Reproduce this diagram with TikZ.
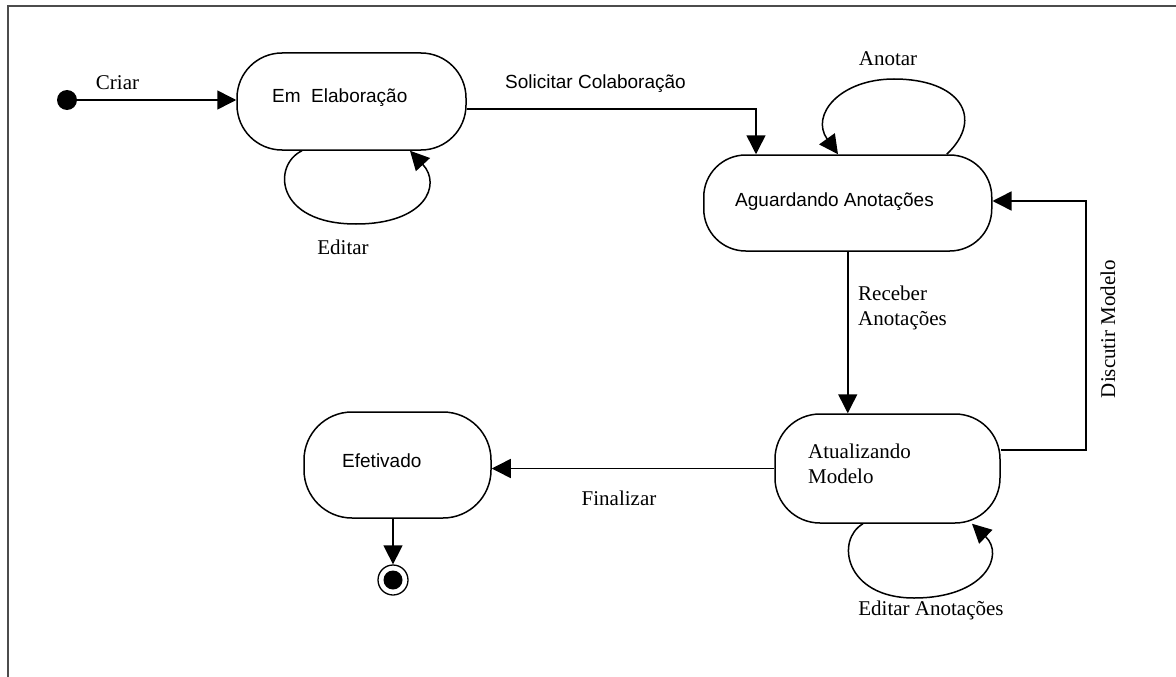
\documentclass[tikz,border=0pt]{standalone}
\usepackage{fontspec}
\setmainfont{Liberation Serif}
\setsansfont{Liberation Sans}
\usetikzlibrary{arrows.meta,calc}
\tikzset{
  st/.style={draw, line width=1.5pt, rounded corners=#1, inner sep=0pt},
  conn/.style={line width=1.5pt},
  arr/.style={conn, -{Triangle[length=19pt,width=19pt]}},
  lbl/.style={font=\fontsize{21pt}{25pt}\selectfont, inner sep=0pt},
  slbl/.style={font=\sffamily\fontsize{19pt}{23pt}\selectfont, inner sep=0pt},
  frame/.style={line width=2pt, draw=black!70},
}
\begin{document}
\begin{tikzpicture}[x=1pt,y=-1pt]
\useasboundingbox (0,0) rectangle (1176,677);
% frame
\draw[frame] (8,677) -- (8,6) -- (1176,6);
% states
\node[st=45pt, minimum width=229pt, minimum height=97pt] (elab) at (351.5,101.5) {};
\node[st=42pt, minimum width=288pt, minimum height=96pt] (aguard) at (847.75,203) {};
\node[st=48pt, minimum width=187pt, minimum height=106pt] (efet) at (397.5,465) {};
\node[st=45pt, minimum width=225pt, minimum height=109pt] (atual) at (887.5,468.5) {};
% state texts
\node[slbl, anchor=west] (telab) at (272,98) {Em\ \ Elaboração};
\node[slbl, anchor=west] (taguard) at (735,202) {Aguardando Anotações};
\node[slbl, anchor=west] (tefet) at (342,461) {Efetivado};
\node[lbl, anchor=west, align=left] (tatual) at (808,464) {Atualizando\\Modelo};
% initial and final states
\node[circle, fill=black, minimum size=20pt, inner sep=0pt] (init) at (67,100) {};
\node[circle, draw, line width=1.3pt, minimum size=30pt, inner sep=0pt] (final) at (393,580) {};
\node[circle, fill=black, minimum size=19pt, inner sep=0pt] (finaldot) at (final) {};
% coordinates
\coordinate (s1) at (756,109);
\coordinate (d1) at (1086,450);
\coordinate (d2) at (1086,201);
% connectors
\draw[arr] (init) -- (init -| elab.west);
\draw[arr] (elab.east |- s1) -- (s1) -- (s1 |- aguard.north);
\draw[arr] (aguard.south) -- (aguard.south |- atual.north);
\draw[arr] (atual.east |- d1) -- (d1) -- (d2) -- (aguard.east |- d2);
\draw[arr] (atual.west) -- (atual.west -| efet.east);
\draw[arr] (efet.south -| final) -- (final.north);
% self loops
\draw[arr] ($(elab.south)+(-49.5,0)$) .. controls (272,165) and (275,224) .. (356,224)
  .. controls (425,224) and (442,185) .. ($(elab.south)+(58.5,0)$);
\draw[arr] ($(aguard.north)+(99,0)$) .. controls (985,118) and (960,79) .. (894,79)
  .. controls (840,79) and (810,115) .. ($(aguard.north)+(-9.75,0)$);
\draw[arr] ($(atual.south)+(-24.5,0)$) .. controls (835,540) and (845,598) .. (914,598)
  .. controls (985,598) and (1005,555) .. ($(atual.south)+(84.5,0)$);
% transition labels
\node[lbl] (lcriar) at (117.5,83) {Criar};
\node[slbl] (lsol) at (595.5,84) {Solicitar Colaboração};
\node[lbl] (lanotar) at (888,59) {Anotar};
\node[lbl] (leditar) at (343,247) {Editar};
\node[lbl, anchor=west, align=left] (lreceber) at (858,307.5) {Receber\\Anotações};
\node[lbl, rotate=90] (ldisc) at (1108,329) {Discutir Modelo};
\node[lbl] (lfinal) at (619,498) {Finalizar};
\node[lbl] (leditan) at (931,610) {Editar Anotações};
\end{tikzpicture}
\end{document}
